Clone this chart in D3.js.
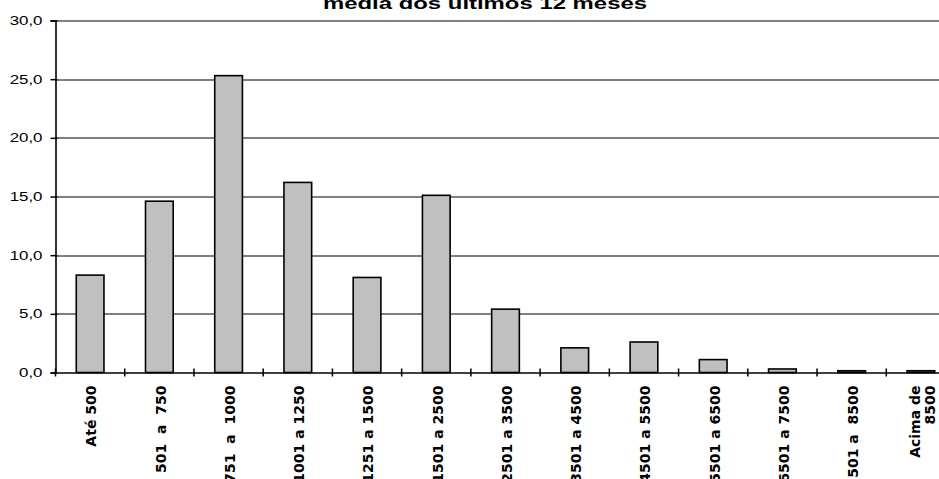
<!DOCTYPE html>
<html>
<head>
<meta charset="utf-8">
<script src="https://cdn.jsdelivr.net/npm/d3@7"></script>
<style>
  body { margin: 0; background: #fff; overflow: hidden; }
  svg { display: block; }
</style>
</head>
<body>
<div id="chart"></div>
<script>
// faixas de renda e percentuais
let categories = ['Até 500', '501  a  750', '751  a  1000', '1001 a 1250', '1251 a 1500',
    '1501 a 2500', '2501 a 3500', '3501 a 4500', '4501 a 5500', '5501 a 6500',
    '6501 a 7500', '7501 a  8500', 'Acima de|8500'];
let values = [8.3, 14.6, 25.3, 16.2, 8.1, 15.1, 5.4, 2.1, 2.6, 1.1, 0.3, 0.15, 0.15];
let yTicks = [0, 5, 10, 15, 20, 25, 30];
let title = 'média dos últimos 12 meses';

let svgWidth = 939;
let svgHeight = 479;

let margin = {
    top: 20.5,
    left: 55.5,
    bottom: 106.5
};

// plot area runs past the right edge in the original
let width = 900;
let height = svgHeight - margin.top - margin.bottom;

let svg = d3.select('#chart').append('svg')
    .attr('width', svgWidth)
    .attr('height', svgHeight);

let chartGroup = svg.append('g')
    .attr('transform', `translate(${margin.left}, ${margin.top})`);

let xScale = d3.scaleBand()
    .domain(categories)
    .range([0, width])
    .paddingInner(0.6)
    .paddingOuter(0.3);

let yScale = d3.scaleLinear()
    .domain([0, 30])
    .range([height, 0]);

let fmt = d => d3.format('.1f')(d).replace('.', ',');

// gridlines
chartGroup.append('g')
    .selectAll('line')
    .data(yTicks.filter(d => d > 0))
    .join('line')
    .attr('x1', 0)
    .attr('x2', width)
    .attr('y1', d => Math.round(yScale(d)) + 0.5)
    .attr('y2', d => Math.round(yScale(d)) + 0.5)
    .attr('stroke', '#000')
    .attr('stroke-width', 1.2);

// bars
chartGroup.append('g')
    .selectAll('rect')
    .data(values)
    .join('rect')
    .attr('x', (d, i) => xScale(categories[i]))
    .attr('y', d => yScale(d))
    .attr('width', xScale.bandwidth())
    .attr('height', d => height - yScale(d))
    .attr('fill', '#c0c0c0')
    .attr('stroke', '#000')
    .attr('stroke-width', 1.6);

// y axis
let leftAxis = d3.axisLeft(yScale)
    .tickValues(yTicks)
    .tickFormat(fmt)
    .tickSize(5)
    .tickPadding(9);

let yAxis = chartGroup.append('g').call(leftAxis);
yAxis.select('.domain').attr('stroke-width', 1.6);
yAxis.selectAll('.tick line').attr('x2', -5).attr('x1', 2).attr('stroke-width', 1.5);
yAxis.selectAll('.tick text')
    .attr('font-family', 'Liberation Sans, Arial, sans-serif')
    .attr('font-size', 13)
    .attr('fill', '#000')
    .attr('x', -13 / 1.3)
    .attr('transform', 'scale(1.3,1)');

// x axis: crossing ticks on the band edges
let bottomAxis = d3.axisBottom(xScale).tickSize(0).tickFormat('');
let xAxis = chartGroup.append('g')
    .attr('transform', `translate(0, ${height})`)
    .call(bottomAxis);
xAxis.select('.domain').attr('stroke-width', 1.6);

let step = xScale.step();
let x0 = xScale(categories[0]) - xScale.paddingOuter() * step;
xAxis.selectAll('.edge')
    .data(d3.range(categories.length + 1))
    .join('line')
    .attr('class', 'edge')
    .attr('x1', i => x0 + i * step)
    .attr('x2', i => x0 + i * step)
    .attr('y1', -4)
    .attr('y2', 4)
    .attr('stroke', '#000')
    .attr('stroke-width', 1.5);

// rotated category labels
let labels = xAxis.selectAll('.lbl')
    .data(categories)
    .join('text')
    .attr('class', 'lbl')
    .attr('transform', d => `translate(${xScale(d) + xScale.bandwidth() / 2 + 1}, 13) rotate(-90)`)
    .attr('text-anchor', 'end')
    .attr('fill', '#000')
    .attr('font-family', 'DejaVu Sans, sans-serif')
    .attr('font-weight', 'bold')
    .attr('font-size', 14)
    .style('white-space', 'pre');

labels.each(function(d) {
    let parts = d.split('|');
    let t = d3.select(this);
    parts.forEach((p, k) => {
        t.append('tspan')
            .attr('x', 0)
            .attr('y', (k - (parts.length - 1) / 2) * 15)
            .attr('dy', '0.38em')
            .text(p);
    });
});

// title (top line cut off in the original)
svg.append('text')
    .attr('x', 485)
    .attr('y', 9)
    .attr('text-anchor', 'middle')
    .attr('fill', '#000')
    .attr('font-family', 'Liberation Sans, Arial, sans-serif')
    .attr('font-weight', 'bold')
    .attr('font-size', 16)
    .attr('textLength', 324)
    .attr('lengthAdjust', 'spacingAndGlyphs')
    .text(title);
</script>
</body>
</html>
